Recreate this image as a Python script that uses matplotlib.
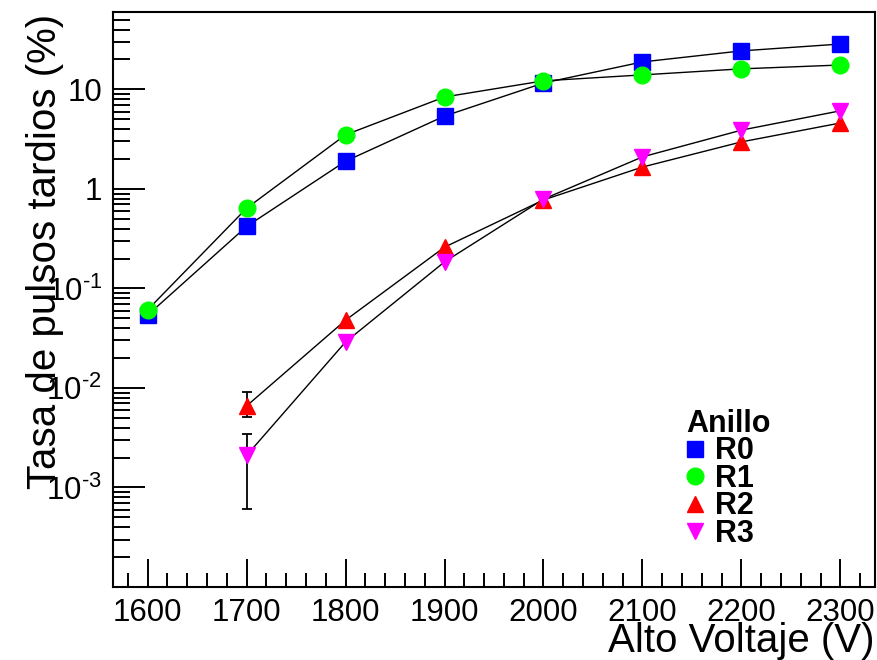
import numpy as np
import matplotlib.pyplot as plt
from matplotlib.ticker import FixedLocator, MultipleLocator, FuncFormatter

plt.rcParams['font.family'] = ['Liberation Sans', 'DejaVu Sans']
plt.rcParams['mathtext.fontset'] = 'custom'
plt.rcParams['mathtext.rm'] = 'Liberation Sans'
plt.rcParams['mathtext.it'] = 'Liberation Sans'

# datos
voltaje = [1600, 1700, 1800, 1900, 2000, 2100, 2200, 2300]
r0 = [0.054, 0.42, 1.9, 5.4, 11.6, 18.9, 24.4, 28.6]
r1 = [0.061, 0.64, 3.5, 8.4, 12.2, 14.0, 16.1, 17.6]
r2_v = [1700, 1800, 1900, 2000, 2100, 2200, 2300]
r2 = [0.0066, 0.048, 0.26, 0.775, 1.66, 2.97, 4.6]
r3_v = [1700, 1800, 1900, 2000, 2100, 2200, 2300]
r3 = [0.0021, 0.029, 0.185, 0.79, 2.1, 3.9, 6.1]
# barras de error visibles (solo 1700 V)
err_v = [1700]
r2_lo = [0.0051]
r2_hi = [0.0091]
r3_lo = [0.00061]
r3_hi = [0.00345]

fig = plt.figure(figsize=(8.77, 6.6), dpi=100)
ax = fig.add_axes([113/877, 1-587/660, 762/877, 575/660])

ax.errorbar(err_v, r2[:1], yerr=[[r2[0]-r2_lo[0]], [r2_hi[0]-r2[0]]], fmt='none',
            ecolor='k', elinewidth=1.3, capsize=3.5, capthick=1.3, zorder=1)
ax.errorbar(err_v, r3[:1], yerr=[[r3[0]-r3_lo[0]], [r3_hi[0]-r3[0]]], fmt='none',
            ecolor='k', elinewidth=1.3, capsize=3.5, capthick=1.3, zorder=1)

ax.plot(voltaje, r0, '-', color='k', lw=1.0, zorder=2)
ax.plot(voltaje, r1, '-', color='k', lw=1.0, zorder=2)
ax.plot(r2_v, r2, '-', color='k', lw=1.0, zorder=2)
ax.plot(r3_v, r3, '-', color='k', lw=1.0, zorder=2)

ax.plot(voltaje, r0, 's', color='#0000ff', ms=11.5, mec='#0000ff', zorder=3, label='R0')
ax.plot(voltaje, r1, 'o', color='#00ff00', ms=12, mec='#00ff00', zorder=3, label='R1')
ax.plot(r2_v, r2, '^', color='#ff0000', ms=11.5, mec='#ff0000', zorder=3, label='R2')
ax.plot(r3_v, r3, 'v', color='#ff00ff', ms=11.5, mec='#ff00ff', zorder=3, label='R3')

ax.set_yscale('log')
ax.set_xlim(1565, 2335)
ax.set_ylim(1e-4, 60)

ax.xaxis.set_major_locator(MultipleLocator(100))
ax.xaxis.set_minor_locator(MultipleLocator(20))
ax.yaxis.set_major_locator(FixedLocator([1e-4, 1e-3, 1e-2, 1e-1, 1, 10]))
minors = [m * 10.0**e for e in range(-4, 2) for m in range(2, 10)]
ax.yaxis.set_minor_locator(FixedLocator(minors))

def fmt_y(v, pos):
    e = int(round(np.log10(v)))
    if e == -4:
        return ''
    if e >= 0:
        return str(int(round(v)))
    return '$10^{\\text{-}%d}$' % (-e)

ax.yaxis.set_major_formatter(FuncFormatter(fmt_y))
ax.yaxis.set_minor_formatter(FuncFormatter(lambda v, p: ''))

ax.tick_params(which='both', direction='in', top=False, right=False, labelsize=22.5, width=1.4)
ax.tick_params(axis='y', which='major', length=23, pad=8)
ax.tick_params(axis='y', which='minor', length=12)
ax.tick_params(axis='x', which='major', length=20, pad=8)
ax.tick_params(axis='x', which='minor', length=10)
for s in ax.spines.values():
    s.set_linewidth(1.5)

fig.text(45/877, 1-14/660, 'Tasa de pulsos tardios (%)', rotation=90,
         ha='center', va='top', fontsize=29)
fig.text(874/877, 8/660, 'Alto Voltaje (V)', ha='right', va='baseline', fontsize=29)

leg = ax.legend(loc='upper left', bbox_to_anchor=(0.752, 0.31), frameon=False,
                title='Anillo', prop={'size': 22, 'weight': 'bold'},
                title_fontproperties={'size': 22, 'weight': 'bold'},
                handlelength=0.6, handletextpad=0.35, labelspacing=-0.08,
                borderpad=0, borderaxespad=0, alignment='left')

plt.savefig('out.png', dpi=100)
